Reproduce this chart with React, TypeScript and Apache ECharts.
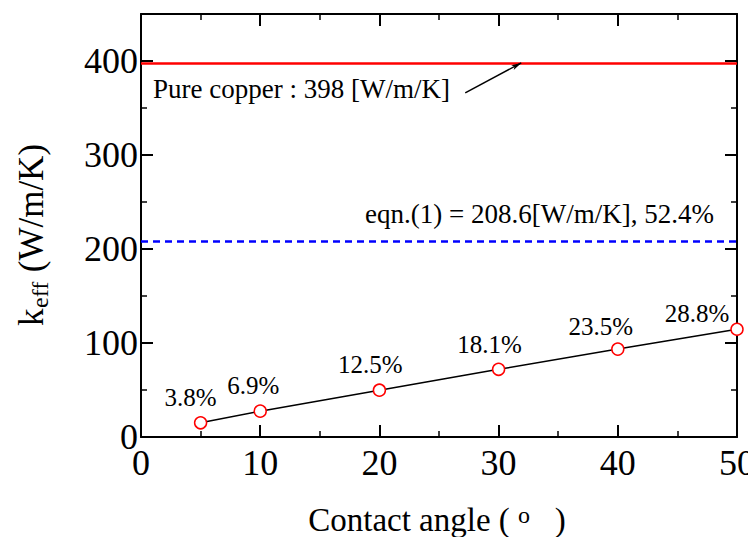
import React, { useEffect, useRef } from "react";
import * as echarts from "echarts";

const angles = [5, 10, 20, 30, 40, 50];
const keffValues = [15.1, 27.5, 49.8, 72.0, 93.5, 114.6];
const pctLabels = ["3.8%", "6.9%", "12.5%", "18.1%", "23.5%", "28.8%"];
const labelOffsets = [
  [-10, -25],
  [-7, -26],
  [-9, -26],
  [-9, -25],
  [-17, -23],
  [-40, -16],
];
const copperK = 398;
const eqnK = 208.6;
const arrowStart = [27.2, 366];
const arrowEnd = [31.9, 398];

const FONT = "'Liberation Serif', 'Times New Roman', Times, serif";

export default function App() {
  const ref = useRef<HTMLDivElement>(null);
  useEffect(() => {
    if (!ref.current) return;
    const chart = echarts.init(ref.current, undefined, { renderer: "svg" });
    const axisCommon = {
      type: "value",
      axisLine: { show: true, onZero: false, lineStyle: { color: "#000", width: 2 } },
      axisTick: { show: true, inside: true, length: 12, lineStyle: { color: "#000", width: 2 } },
      minorTick: { show: true, splitNumber: 2, length: 6, lineStyle: { color: "#000", width: 1.5 } },
      splitLine: { show: false },
      minorSplitLine: { show: false },
    };
    const lineData = angles.map((a, i) => ({
      value: [a, keffValues[i]],
      label: {
        show: true,
        formatter: pctLabels[i],
        position: "inside",
        offset: labelOffsets[i],
        fontFamily: FONT,
        fontSize: 25,
        color: "#000",
      },
    }));
    chart.setOption({
      animation: false,
      backgroundColor: "#fff",
      textStyle: { fontFamily: FONT },
      grid: {
        left: 141,
        right: 19,
        top: 14,
        bottom: 108,
        containLabel: false,
        outerBoundsMode: "none",
      },
      xAxis: [
        {
          ...axisCommon,
          min: 0,
          max: 50,
          interval: 10,
          position: "bottom",
          axisLabel: { show: true, fontFamily: FONT, fontSize: 36, color: "#000", margin: 8 },
          name: "Contact angle ( {o|o}   )",
          nameLocation: "middle",
          nameGap: 66,
          nameTextStyle: {
            fontFamily: FONT,
            fontSize: 33,
            color: "#000",
            padding: [0, 0, 0, -4],
            rich: {
              o: { fontFamily: FONT, fontSize: 24, color: "#000", verticalAlign: "top", lineHeight: 20 },
            },
          },
        },
        {
          ...axisCommon,
          min: 0,
          max: 50,
          interval: 10,
          position: "top",
          axisLabel: { show: false },
        },
      ],
      yAxis: [
        {
          ...axisCommon,
          min: 0,
          max: 450,
          interval: 100,
          position: "left",
          axisLabel: {
            show: true,
            fontFamily: FONT,
            fontSize: 36,
            color: "#000",
            margin: 3,
            formatter: (v: number) => (v > 400 ? "" : String(v)),
          },
        },
        {
          ...axisCommon,
          min: 0,
          max: 450,
          interval: 100,
          position: "right",
          axisLabel: { show: false },
        },
      ],
      series: [
        {
          type: "line",
          data: [],
          markLine: {
            silent: true,
            symbol: ["none", "none"],
            label: { show: false },
            data: [
              { yAxis: copperK, lineStyle: { color: "#ff0000", width: 2.5, type: "solid" } },
              { yAxis: eqnK, lineStyle: { color: "#0000ff", width: 2.5, type: [7, 5] } },
              [
                { coord: arrowStart, symbol: "none", lineStyle: { color: "#000", width: 1.5, type: "solid" } },
                { coord: arrowEnd, symbol: "arrow", symbolSize: [4, 10] },
              ],
            ],
          },
        },
        {
          type: "line",
          data: lineData,
          lineStyle: { color: "#000", width: 1.5 },
          itemStyle: { color: "#fff", borderColor: "#ff0000", borderWidth: 1.5 },
          symbol: "circle",
          symbolSize: 12,
          z: 5,
        },
      ],
      graphic: [
        {
          type: "group",
          x: 31,
          y: 235,
          rotation: Math.PI / 2,
          children: [
            {
              type: "text",
              x: -91,
              y: 0,
              style: { text: "k", fontFamily: FONT, fontSize: 35, fill: "#000", verticalAlign: "middle", align: "left" },
            },
            {
              type: "text",
              x: -73,
              y: 9,
              style: { text: "eff", fontFamily: FONT, fontSize: 24, fill: "#000", verticalAlign: "middle", align: "left" },
            },
            {
              type: "text",
              x: -46,
              y: 0,
              style: { text: " (W/m/K)", fontFamily: FONT, fontSize: 35, fill: "#000", verticalAlign: "middle", align: "left" },
            },
          ],
        },
        {
          type: "text",
          left: 153,
          top: 75,
          style: { text: "Pure copper : 398 [W/m/K]", fontFamily: FONT, fontSize: 27, fill: "#000" },
        },
        {
          type: "text",
          right: 42,
          top: 200,
          style: { text: "eqn.(1) = 208.6[W/m/K], 52.4%", fontFamily: FONT, fontSize: 27, fill: "#000" },
        },
      ],
    });
    return () => chart.dispose();
  }, []);
  return <div ref={ref} style={{ width: 756, height: 545, margin: -8 }} />;
}
